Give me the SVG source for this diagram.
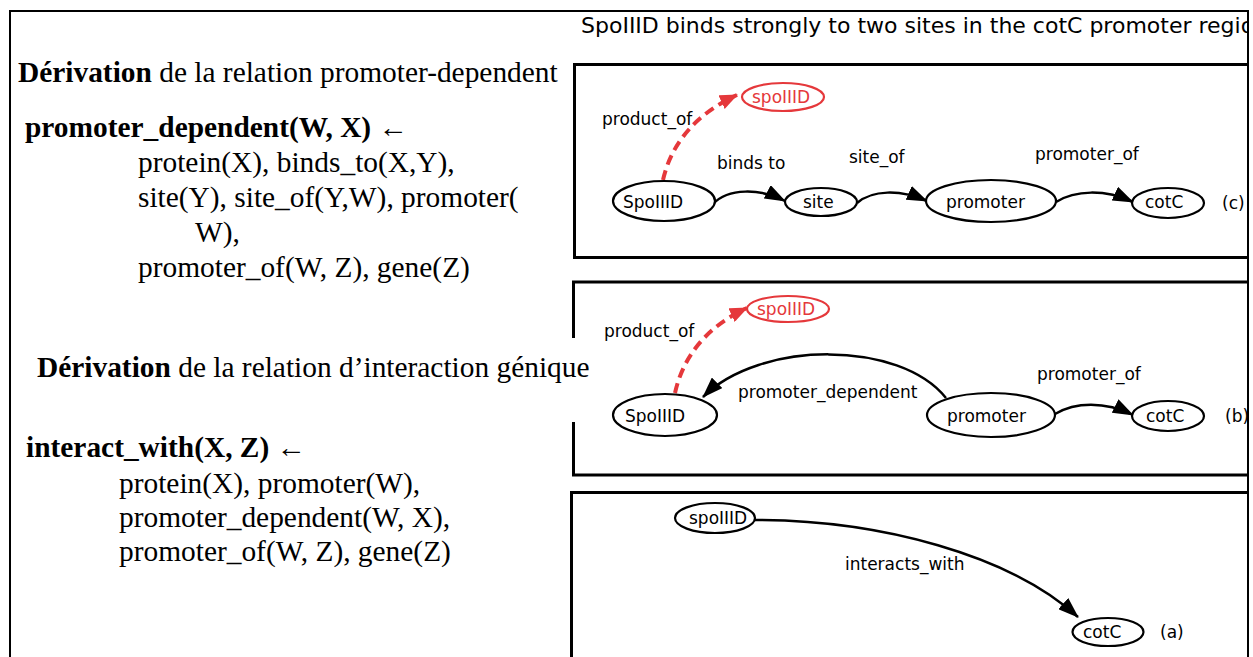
<svg xmlns="http://www.w3.org/2000/svg" width="1253" height="657" viewBox="0 0 1253 657">
  <style>
    .serif { font-family: "Liberation Serif", "Times New Roman", serif; font-size: 29.4px; fill: #000; }
    .bold { font-weight: bold; }
    .sans { font-family: "DejaVu Sans", Verdana, sans-serif; font-size: 17px; fill: #000; }
    .title { font-family: "DejaVu Sans", Verdana, sans-serif; font-size: 22px; fill: #000; }
    .frame { fill: none; stroke: #000; stroke-width: 2; }
    .panel { fill: none; stroke: #000; stroke-width: 3; }
    .node { fill: #fff; stroke: #000; stroke-width: 2.2; }
    .node-red { fill: #fff; stroke: #e5383b; stroke-width: 2.2; }
    .red { fill: #e5383b; }
    .edge { fill: none; stroke: #000; stroke-width: 2.5; marker-end: url(#arrow); }
    .edge-red { fill: none; stroke: #e5383b; stroke-width: 4; stroke-dasharray: 10 6; marker-end: url(#arrow-red); }
  </style>
  <defs>
    <marker id="arrow" markerUnits="userSpaceOnUse" viewBox="0 0 21 15" refX="20" refY="7.5" markerWidth="21" markerHeight="15" orient="auto">
      <path d="M0,0 L21,7.5 L0,15 z" fill="#000"/>
    </marker>
    <marker id="arrow-red" markerUnits="userSpaceOnUse" viewBox="0 0 18 15" refX="17" refY="7.5" markerWidth="18" markerHeight="15" orient="auto">
      <path d="M0,0 L18,7.5 L0,15 z" fill="#e5383b"/>
    </marker>
    <clipPath id="inner">
      <rect x="0" y="0" width="1247" height="657"/>
    </clipPath>
  </defs>

  <rect width="1253" height="657" fill="#fff"/>

  <!-- outer frame -->
  <path class="frame" d="M10,657 V11 H1248 V657"/>

  <g clip-path="url(#inner)">
    <!-- caption above the graphs -->
    <text class="title" x="581" y="33">SpoIIID binds strongly to two sites in the cotC promoter region</text>

    <!-- graph panels -->
    <rect class="panel" x="574.5" y="64.5" width="690" height="193"/>
    <rect class="panel" x="573.5" y="282" width="690" height="193"/>
    <rect class="panel" x="571.5" y="492.5" width="690" height="200"/>
  </g>

  <!-- rule 1 -->
  <g id="rule-promoter-dependent">
    <text class="serif" x="18" y="82"><tspan class="bold">Dérivation</tspan> de la relation promoter-dependent</text>
    <text class="serif" x="25" y="137"><tspan class="bold">promoter_dependent(W, X)</tspan> ←</text>
    <text class="serif" x="138" y="172">protein(X), binds_to(X,Y),</text>
    <text class="serif" x="138" y="207">site(Y), site_of(Y,W), promoter(</text>
    <text class="serif" x="195" y="242">W),</text>
    <text class="serif" x="138" y="277">promoter_of(W, Z), gene(Z)</text>
  </g>

  <!-- rule 2 (its backing box hides part of the middle panel edge) -->
  <g id="rule-interact-with">
    <rect x="28" y="338" width="568" height="84" fill="#fff"/>
    <text class="serif" x="37" y="377"><tspan class="bold">Dérivation</tspan> de la relation d’interaction génique</text>
    <text class="serif" x="26" y="457"><tspan class="bold">interact_with(X, Z)</tspan> ←</text>
    <text class="serif" x="119" y="493">protein(X), promoter(W),</text>
    <text class="serif" x="119" y="527">promoter_dependent(W, X),</text>
    <text class="serif" x="119" y="561">promoter_of(W, Z), gene(Z)</text>
  </g>

  <!-- connectors -->
  <g id="connectors">
    <!-- panel (c) -->
    <path class="edge-red" d="M663,180 C672,140 700,112 737,95"/>
    <path class="edge" d="M713,204 C728,188 760,188 785,201"/>
    <path class="edge" d="M857,203 C872,190 900,189 927,201"/>
    <path class="edge" d="M1056,202 C1075,190 1105,189 1133,202"/>
    <!-- panel (b) -->
    <path class="edge-red" d="M675,393 C684,352 712,324 747,308"/>
    <path class="edge" d="M946,398 C900,340 760,340 703,397"/>
    <path class="edge" d="M1055,414 C1075,402 1105,401 1133,415"/>
    <!-- panel (a) -->
    <path class="edge" d="M755,520 C880,520 1010,555 1078,617"/>
  </g>

  <!-- edge labels -->
  <g id="edge-labels">
    <text class="sans" x="602" y="125">product_of</text>
    <text class="sans" x="717" y="169">binds to</text>
    <text class="sans" x="849" y="163">site_of</text>
    <text class="sans" x="1035" y="160">promoter_of</text>
    <text class="sans" x="604" y="337">product_of</text>
    <text class="sans" x="738" y="398">promoter_dependent</text>
    <text class="sans" x="1037" y="380">promoter_of</text>
    <text class="sans" x="845" y="570">interacts_with</text>
    <text class="sans" x="1222" y="209">(c)</text>
    <text class="sans" x="1225" y="422">(b)</text>
    <text class="sans" x="1160" y="638">(a)</text>
  </g>

  <!-- panel (c) nodes -->
  <g id="c-spoIIID-gene">
    <ellipse class="node-red" cx="783" cy="97" rx="41" ry="14"/>
    <text class="sans red" x="752" y="103">spoIIID</text>
  </g>
  <g id="c-SpoIIID">
    <ellipse class="node" cx="664" cy="201" rx="51" ry="20"/>
    <text class="sans" x="623" y="208">SpoIIID</text>
  </g>
  <g id="c-site">
    <ellipse class="node" cx="821" cy="202" rx="36" ry="14"/>
    <text class="sans" x="803" y="208">site</text>
  </g>
  <g id="c-promoter">
    <ellipse class="node" cx="991" cy="201" rx="65" ry="21"/>
    <text class="sans" x="946" y="208">promoter</text>
  </g>
  <g id="c-cotC">
    <ellipse class="node" cx="1168" cy="203" rx="36" ry="15"/>
    <text class="sans" x="1145" y="208">cotC</text>
  </g>

  <!-- panel (b) nodes -->
  <g id="b-spoIIID-gene">
    <ellipse class="node-red" cx="788" cy="309" rx="41" ry="13"/>
    <text class="sans red" x="757" y="315">spoIIID</text>
  </g>
  <g id="b-SpoIIID">
    <ellipse class="node" cx="665" cy="415" rx="52" ry="21"/>
    <text class="sans" x="625" y="422">SpoIIID</text>
  </g>
  <g id="b-promoter">
    <ellipse class="node" cx="991" cy="415" rx="64" ry="22"/>
    <text class="sans" x="947" y="422">promoter</text>
  </g>
  <g id="b-cotC">
    <ellipse class="node" cx="1168" cy="416" rx="36" ry="15"/>
    <text class="sans" x="1146" y="422">cotC</text>
  </g>

  <!-- panel (a) nodes -->
  <g id="a-spoIIID">
    <ellipse class="node" cx="715" cy="518" rx="40" ry="15"/>
    <text class="sans" x="689" y="524">spoIIID</text>
  </g>
  <g id="a-cotC">
    <ellipse class="node" cx="1108" cy="632" rx="35.5" ry="14"/>
    <text class="sans" x="1083" y="638">cotC</text>
  </g>
</svg>
